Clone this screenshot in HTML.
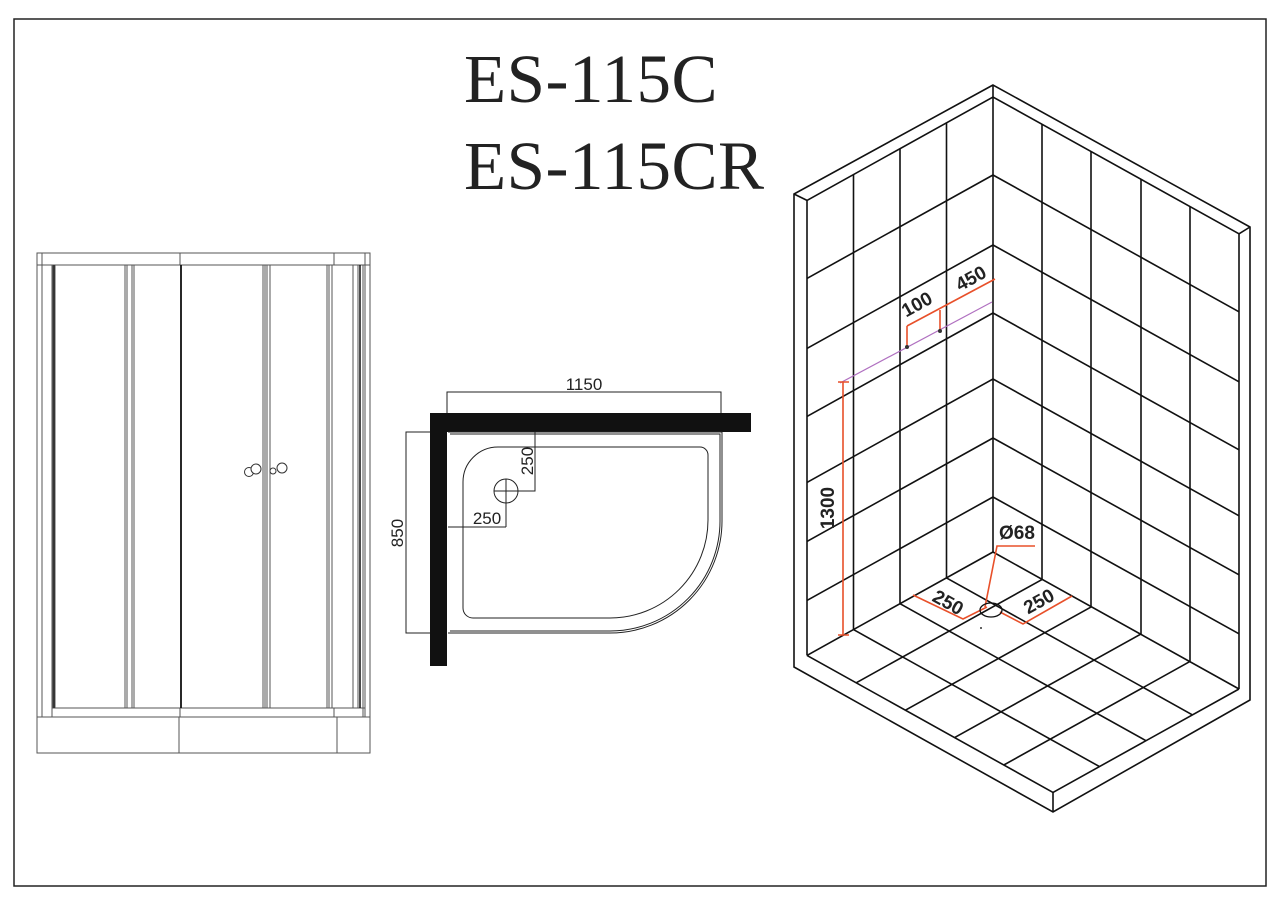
<!DOCTYPE html>
<html><head><meta charset="utf-8"><style>
html,body{margin:0;padding:0;background:#fff;width:1280px;height:905px;overflow:hidden}
svg{display:block}
</style></head><body>
<svg width="1280" height="905" viewBox="0 0 1280 905" xmlns="http://www.w3.org/2000/svg">
<rect x="14" y="19" width="1252" height="867" fill="none" stroke="#222" stroke-width="1.5"/>
<text x="464" y="102" font-family="Liberation Serif, serif" font-size="69" letter-spacing="0.5" fill="#222">ES-115C</text>
<text x="464" y="189" font-family="Liberation Serif, serif" font-size="69" letter-spacing="0.5" fill="#222">ES-115CR</text>

<!-- Elevation -->
<g fill="none" stroke="#555" stroke-width="1">
<rect x="37" y="253" width="333" height="500"/>
<line x1="37" y1="265" x2="370" y2="265"/>
<line x1="52" y1="708" x2="365" y2="708"/>
<line x1="37" y1="717" x2="370" y2="717"/>
<line x1="180" y1="253" x2="180" y2="265"/>
<line x1="334" y1="253" x2="334" y2="265"/>
<line x1="180" y1="708" x2="180" y2="717"/>
<line x1="334" y1="708" x2="334" y2="717"/>
<line x1="179" y1="717" x2="179" y2="753"/>
<line x1="337" y1="717" x2="337" y2="753"/>
<line x1="42" y1="253" x2="42" y2="717"/>
<line x1="52" y1="265" x2="52" y2="717"/>
<line x1="365" y1="253" x2="365" y2="717"/>
<line x1="363" y1="265" x2="363" y2="717"/>
<rect x="53" y="265" width="310" height="443"/>
<line x1="55" y1="265" x2="55" y2="708"/>
<line x1="125" y1="265" x2="125" y2="708"/>
<line x1="127" y1="265" x2="127" y2="708"/>
<line x1="132" y1="265" x2="132" y2="708"/>
<line x1="134" y1="265" x2="134" y2="708"/>
<line x1="263" y1="265" x2="263" y2="708"/>
<line x1="265" y1="265" x2="265" y2="708"/>
<line x1="267" y1="265" x2="267" y2="708"/>
<line x1="270" y1="265" x2="270" y2="708"/>
<line x1="327" y1="265" x2="327" y2="708"/>
<line x1="329" y1="265" x2="329" y2="708"/>
<line x1="332" y1="265" x2="332" y2="708"/>
<line x1="353" y1="265" x2="353" y2="708"/>
<line x1="358" y1="265" x2="358" y2="708"/>
</g>
<line x1="181" y1="265" x2="181" y2="708" stroke="#111" stroke-width="1.8"/>
<line x1="360" y1="265" x2="360" y2="708" stroke="#111" stroke-width="1.5"/>
<line x1="54" y1="265" x2="54" y2="708" stroke="#222" stroke-width="1.2"/>
<g fill="#fff" stroke="#333" stroke-width="1">
<circle cx="249" cy="472" r="4.5"/><circle cx="256" cy="469" r="5"/>
<circle cx="273" cy="471" r="3"/><circle cx="282" cy="468" r="5"/>
</g>

<!-- Plan -->
<rect x="430" y="413" width="17" height="253" fill="#111"/>
<rect x="430" y="413" width="321" height="19" fill="#111"/>
<g fill="none" stroke="#222" stroke-width="1">
<path d="M448 432 H722 V520 A112 112 0 0 1 610 633 H448"/>
<path d="M450 434 H720 V520 A110 110 0 0 1 610 631 H450"/>
<path d="M498 447 H700 A8 8 0 0 1 708 455 V520 A98 98 0 0 1 610 618 H473 A10 10 0 0 1 463 608 V482 A35 35 0 0 1 498 447 Z"/>
<circle cx="506" cy="491" r="12"/>
<path d="M506 479 V527 M494 491 H535 V432 M448 527 H506"/>
<path d="M447 413 V392 H721 V413"/>
<path d="M430 432 H406 V633 H430"/>
</g>
<g font-family="Liberation Sans, sans-serif" font-size="17" fill="#222">
<text x="584" y="390" text-anchor="middle">1150</text>
<text x="487" y="524" text-anchor="middle">250</text>
<text transform="translate(533,461) rotate(-90)" text-anchor="middle">250</text>
<text transform="translate(403,533) rotate(-90)" text-anchor="middle">850</text>
</g>

<!-- Iso -->
<g fill="none" stroke="#111" stroke-width="1.6">
<path d="M993 85 L794 194 L794 667 L1053 812 L1250 700 L1250 227 Z"/>
<path d="M794 194 L807 200.4 M1250 227 L1239 233.8 M1053 792.4 L1053 812 M993 85 V97"/>
<path d="M807 200.4 L993 97 L1239 233.8 M807 200.4 V655.4 M1239 233.8 V689 M993 97 V552"/>
<path d="M946.5 122.9 V577.9 M900 148.7 V603.7 M853.5 174.6 V629.6"/>
<path d="M993 175 L807 278.4 M993 245 L807 348.4 M993 313 L807 416.4 M993 379 L807 482.4 M993 438 L807 541.4 M993 497 L807 600.4"/>
<path d="M1042 124.2 V579.2 M1091 151.5 V606.5 M1141 179.3 V634.3 M1190 206.5 V661.5"/>
<path d="M993 175 L1239 311.8 M993 245 L1239 381.8 M993 313 L1239 449.8 M993 379 L1239 515.8 M993 438 L1239 574.8 M993 497 L1239 633.8"/>
<path d="M993 552 L1239 689 M946.5 577.9 L1192.5 714.9 M900 603.7 L1146 740.7 M853.5 629.6 L1099.5 766.6 M807 655.4 L1053 792.4"/>
<path d="M993 552 L807 655.4 M1042.2 579.4 L856.2 682.8 M1091.4 606.8 L905.4 710.2 M1140.6 634.2 L954.6 737.6 M1189.8 661.6 L1003.8 765 M1239 689 L1053 792.4"/>
</g>
<line x1="840" y1="383" x2="992" y2="302" stroke="#b070c0" stroke-width="1.2"/>
<g fill="none" stroke="#e8502a" stroke-width="1.6">
<path d="M843 382 V635 M838 382 H849 M838 635 H849"/>
<path d="M995 279 L907 326 M907 326 V347 M940 310 V331"/>
<path d="M913 595 L963 619 L987 607 M1000 612 L1023 624 L1072 596"/>
<path d="M985 607 L997 546 H1035"/>
</g>
<ellipse cx="991" cy="610" rx="11" ry="7" fill="none" stroke="#111" stroke-width="1.3"/>
<circle cx="907" cy="347" r="2" fill="#333"/><circle cx="940" cy="331" r="2" fill="#333"/>
<circle cx="981" cy="628" r="1" fill="#333"/>
<g font-family="Liberation Sans, sans-serif" font-size="19" fill="#222" font-weight="bold">
<text transform="translate(834,508) rotate(-90)" text-anchor="middle">1300</text>
<text transform="translate(974,284) rotate(-29)" text-anchor="middle">450</text>
<text transform="translate(920,310) rotate(-29)" text-anchor="middle">100</text>
<text transform="translate(945,608) rotate(29)" text-anchor="middle">250</text>
<text transform="translate(1042,607) rotate(-29)" text-anchor="middle">250</text>
<text x="1017" y="539" text-anchor="middle">Ø68</text>
</g>
</svg>
</body></html>
